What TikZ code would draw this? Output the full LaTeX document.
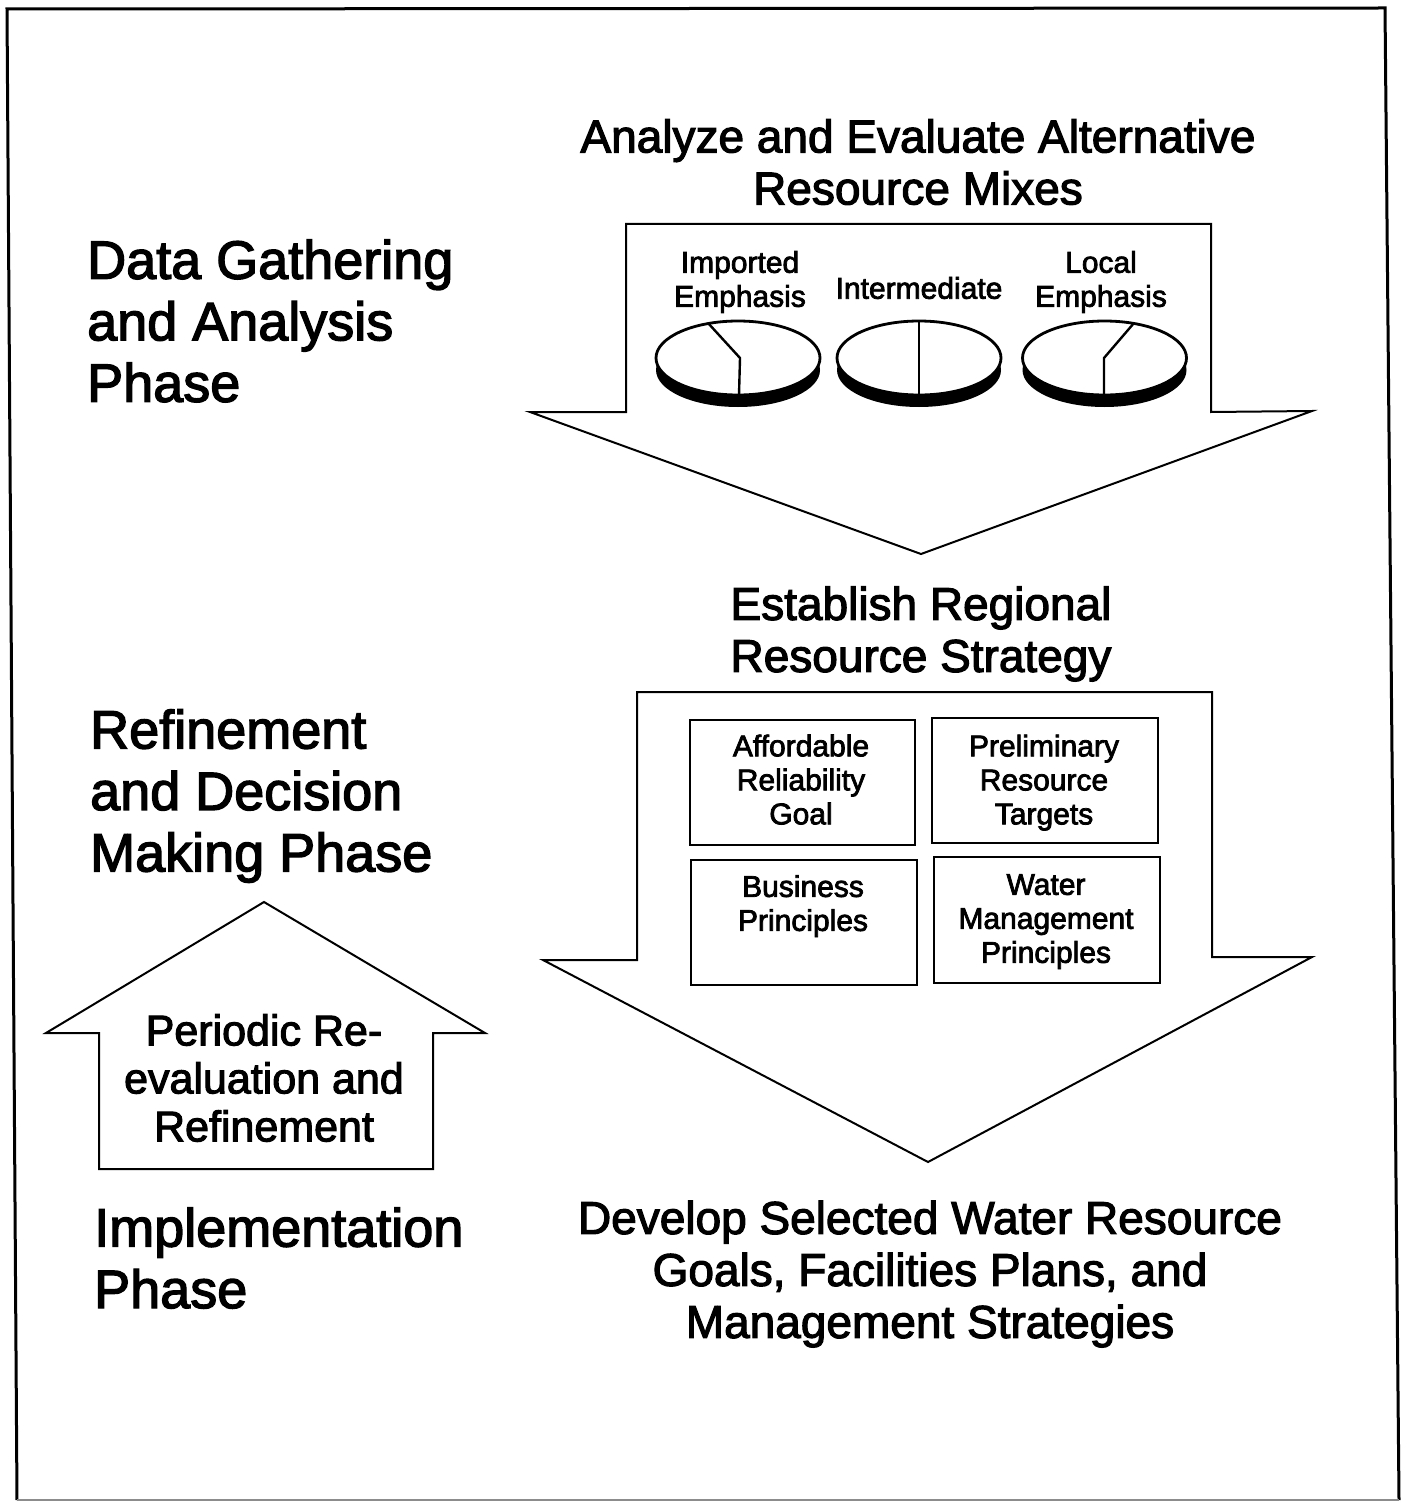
\documentclass[tikz,border=0pt]{standalone}
\usepackage{fontspec}
\setmainfont{Liberation Sans}[FakeBold=2.5]
\begin{document}
\begin{tikzpicture}[x=1pt,y=-1pt,line join=miter,
  phase/.style={anchor=west,align=left,inner sep=0pt,font=\fontsize{54}{61.5}\selectfont},
  heading/.style={align=center,inner sep=0pt,font=\fontsize{46}{52}\selectfont},
  arrowtext/.style={align=center,inner sep=0pt,font=\fontsize{43}{48}\selectfont},
  pielabel/.style={align=center,inner sep=0pt,font=\fontsize{30}{34}\selectfont},
  celltext/.style={align=center,inner sep=0pt,font=\fontsize{30}{34}\selectfont},
  cell/.style={draw,line width=2.6pt,inner sep=0pt},
  bigarrow/.style={draw,line width=2pt,fill=white},
  pierad/.style={x radius=82,y radius=37},
  piedivider/.style={line width=2.4pt},
]
\useasboundingbox (0,0) rectangle (1403,1503);

% outer frame
\draw[line width=3pt] (17,1500) -- (7,9) -- (1385,8) -- (1399,1500);
\draw[line width=1.5pt,black!45] (17,1500) -- (1399,1500);

% phase labels
\node[phase] (datagather) at (87,321) {Data Gathering\\and Analysis\\Phase};
\node[phase] (refinephase) at (90,796) {Refinement\\and Decision\\Making Phase};
\node[phase] (implphase) at (94,1258) {Implementation\\Phase};

% first stage: alternative resource mixes
\node[heading] (analyze) at (918,162) {Analyze and Evaluate Alternative\\Resource Mixes};
\draw[bigarrow] (626,412) -- (626,224) -- (1211,224) -- (1211,412) -- (1312,411)
  -- (921,554) -- (530,412) -- cycle;

\node[pielabel] (lblimp) at (740,282) {Imported\\Emphasis};
\node[pielabel] (lblint) at (919,288) {Intermediate};
\node[pielabel] (lbllocal) at (1101,282) {Local\\Emphasis};

% pie: imported emphasis
\coordinate (pieA) at (738,358);
\fill ([yshift=-12pt]pieA) ellipse[pierad];
\filldraw[fill=white,line width=2.8pt] (pieA) ellipse[pierad];
\draw[piedivider] (708,323) -- (740,358) -- (739,395);
% pie: intermediate
\coordinate (pieB) at (919,358);
\fill ([yshift=-12pt]pieB) ellipse[pierad];
\filldraw[fill=white,line width=2.8pt] (pieB) ellipse[pierad];
\draw[piedivider] (919,321) -- (919,395);
% pie: local emphasis
\coordinate (pieC) at (1104.5,358);
\fill ([yshift=-12pt]pieC) ellipse[pierad];
\filldraw[fill=white,line width=2.8pt] (pieC) ellipse[pierad];
\draw[piedivider] (1134,323) -- (1104,358) -- (1104,395);

% second stage: regional resource strategy
\node[heading] (establish) at (921,634) {Establish Regional\\Resource Strategy};
\draw[bigarrow] (637,960) -- (637,692) -- (1212,692) -- (1212,957) -- (1312,957)
  -- (928,1162) -- (543,960) -- cycle;

\node[cell,minimum width=225,minimum height=125] (boxA) at (802.5,782.5) {};
\node[cell,minimum width=226,minimum height=125] (boxP) at (1045,780.5) {};
\node[cell,minimum width=226,minimum height=125] (boxB) at (804,922.5) {};
\node[cell,minimum width=226,minimum height=126] (boxW) at (1047,920) {};
\node[celltext] (txtA) at (801,779.6) {Affordable\\Reliability\\Goal};
\node[celltext] (txtP) at (1044,782.6) {Preliminary\\Resource\\Targets};
\node[celltext] (txtB) at (803,906.1) {Business\\Principles};
\node[celltext] (txtW) at (1046,921.6) {Water\\Management\\Principles};

% feedback arrow
\draw[bigarrow] (99,1169) -- (99,1033) -- (46,1033) -- (264,902) -- (485,1033)
  -- (433,1033) -- (433,1169) -- cycle;
\node[arrowtext] (uptext) at (264,1078) {Periodic Re-\\evaluation and\\Refinement};

% final stage
\node[heading] (develop) at (930,1274) {Develop Selected Water Resource\\Goals, Facilities Plans, and\\Management Strategies};
\end{tikzpicture}
\end{document}
